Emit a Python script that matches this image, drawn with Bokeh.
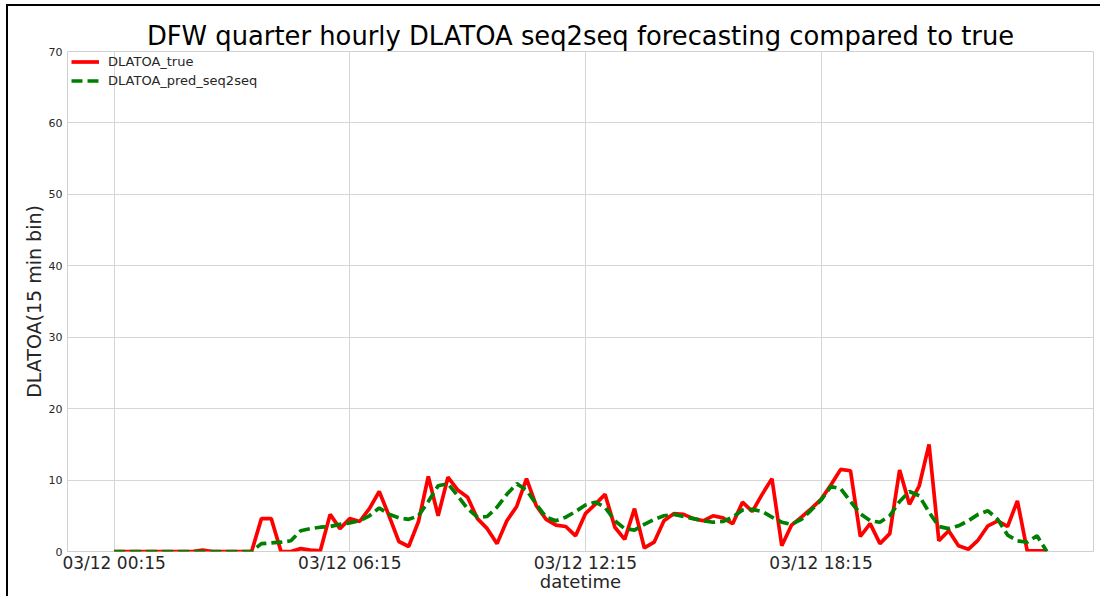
import pandas as pd
from bokeh.plotting import figure
from bokeh.models import Range1d, FixedTicker, DatetimeTickFormatter, ColumnDataSource
from bokeh.embed import file_html
from bokeh.resources import INLINE

start_time = "2018-03-12 00:15"
n_points = 96

dlatoa_true = [
    0, 0, 0, 0, 0, 0, 0, 0, 0, 0.2, 0, 0, 0, 0, 0,
    4.6, 4.6, 0, 0, 0.4, 0.2, 0.1, 5.2, 3.2, 4.6, 4.2, 6.0, 8.4, 5.0, 1.4,
    0.7, 4.2, 10.5, 5.0, 10.4, 8.6, 7.6, 4.6, 3.2, 1.1, 4.3, 6.3, 10.2, 6.4, 4.5,
    3.7, 3.5, 2.2, 5.3, 6.6, 8.0, 3.4, 1.7, 6.0, 0.5, 1.3, 4.3, 5.3, 5.2, 4.6,
    4.3, 5.0, 4.7, 3.9, 6.9, 5.6, 8.0, 10.2, 0.8, 3.7, 4.8, 6.0, 7.3, 9.3, 11.5,
    11.3, 2.1, 3.9, 1.1, 2.5, 11.4, 6.6, 9.2, 15.0, 1.5, 2.9, 0.8, 0.3, 1.6, 3.6,
    4.3, 3.5, 7.1, 0.1, 0.1, 0.1,
]

dlatoa_pred = [
    0, 0, 0, 0, 0, 0, 0, 0, 0, 0, 0, 0, 0, 0, 0,
    1.1, 1.2, 1.3, 1.5, 2.9, 3.2, 3.4, 3.5, 3.8, 4.0, 4.3, 5.0, 6.1, 5.2, 4.7,
    4.5, 5.0, 7.0, 9.2, 9.5, 7.8, 6.0, 4.8, 4.9, 6.2, 8.0, 9.5, 8.6, 6.6, 4.8,
    4.3, 4.8, 5.6, 6.5, 6.9, 6.2, 4.3, 3.2, 3.0, 3.8, 4.5, 5.0, 5.2, 4.9, 4.6,
    4.3, 4.1, 4.2, 4.8, 5.8, 5.9, 5.6, 4.8, 4.1, 3.8, 4.5, 5.8, 7.2, 9.1, 8.8,
    7.0, 5.3, 4.3, 4.1, 5.0, 7.0, 8.4, 7.8, 5.5, 3.5, 3.2, 3.6, 4.3, 5.2, 5.7,
    4.5, 2.3, 1.5, 1.3, 2.2, 0,
]

tick_times = ["2018-03-12 00:15", "2018-03-12 06:15", "2018-03-12 12:15", "2018-03-12 18:15"]
y_ticks = [0, 10, 20, 30, 40, 50, 60, 70]

times = pd.date_range(start_time, periods=n_points, freq="15min")
df = pd.DataFrame({"datetime": times, "true": dlatoa_true, "pred": dlatoa_pred})
src = ColumnDataSource(df)

step = pd.Timedelta(minutes=15)
pad = step * 4.75
x_range = Range1d(start=times[0] - pad, end=times[-1] + pad)

FONT = "DejaVu Sans"

p = figure(
    width=1094, height=592,
    x_axis_type="datetime",
    x_range=x_range, y_range=Range1d(0, 70),
    output_backend="svg", toolbar_location=None,
    min_border_left=59, min_border_right=9, min_border_top=45, min_border_bottom=47,
    title="DFW quarter hourly DLATOA seq2seq forecasting compared to true",
)
p.styles = {
    "border-left": "2px solid #000000",
    "border-top": "2px solid #000000",
    "margin-left": "6px",
    "margin-top": "4px",
}
p.background_fill_color = "white"
p.border_fill_color = "white"
p.outline_line_color = "#d0d0d0"

p.title.align = "center"
p.title.text_font = FONT
p.title.text_font_size = "25.8px"
p.title.text_font_style = "normal"
p.title.text_color = "black"
p.title.standoff = 2

p.line("datetime", "true", source=src, line_color="#ff0000", line_width=3.7,
       legend_label="DLATOA_true")
p.line("datetime", "pred", source=src, line_color="#008000", line_width=3.7,
       line_dash="11 5", legend_label="DLATOA_pred_seq2seq")

tick_ms = [pd.Timestamp(t).value / 1e6 for t in tick_times]
p.xaxis.ticker = FixedTicker(ticks=tick_ms)
fmt = "%m/%d %H:%M"
p.xaxis.formatter = DatetimeTickFormatter(
    microseconds=fmt, milliseconds=fmt, seconds=fmt, minsec=fmt, minutes=fmt,
    hourmin=fmt, hours=fmt, days=fmt, months=fmt, years=fmt,
    strip_leading_zeros=False,
)
p.yaxis.ticker = FixedTicker(ticks=y_ticks)

for ax in (p.xaxis[0], p.yaxis[0]):
    ax.axis_line_color = None
    ax.major_tick_line_color = None
    ax.minor_tick_line_color = None
    ax.major_tick_out = 0
    ax.major_tick_in = 0
    ax.minor_tick_out = 0
    ax.minor_tick_in = 0
    ax.major_label_text_font = FONT
    ax.axis_label_text_font = FONT
    ax.axis_label_text_font_style = "normal"
    ax.axis_label_text_color = "#262626"
    ax.major_label_text_color = "#262626"

p.xaxis.axis_label = "datetime"
p.xaxis.axis_label_text_font_size = "18px"
p.xaxis.major_label_text_font_size = "17px"
p.xaxis.major_label_standoff = 1
p.xaxis.axis_label_standoff = -5

p.yaxis.axis_label = "DLATOA(15 min bin)"
p.yaxis.axis_label_text_font_size = "19px"
p.yaxis.major_label_text_font_size = "11px"
p.yaxis.major_label_standoff = 5
p.yaxis.axis_label_standoff = 1

p.grid.grid_line_color = "#d6d6d6"
p.grid.grid_line_width = 1

lg = p.legend[0]
lg.location = (4, 461)
lg.border_line_color = None
lg.background_fill_alpha = 0
lg.padding = 0
lg.margin = 0
lg.spacing = 0
lg.label_text_font = FONT
lg.label_text_font_size = "13px"
lg.label_text_color = "#262626"
lg.glyph_width = 28
lg.glyph_height = 19
lg.label_height = 19
lg.label_standoff = 9

open("out.html", "w").write(file_html(p, INLINE))
